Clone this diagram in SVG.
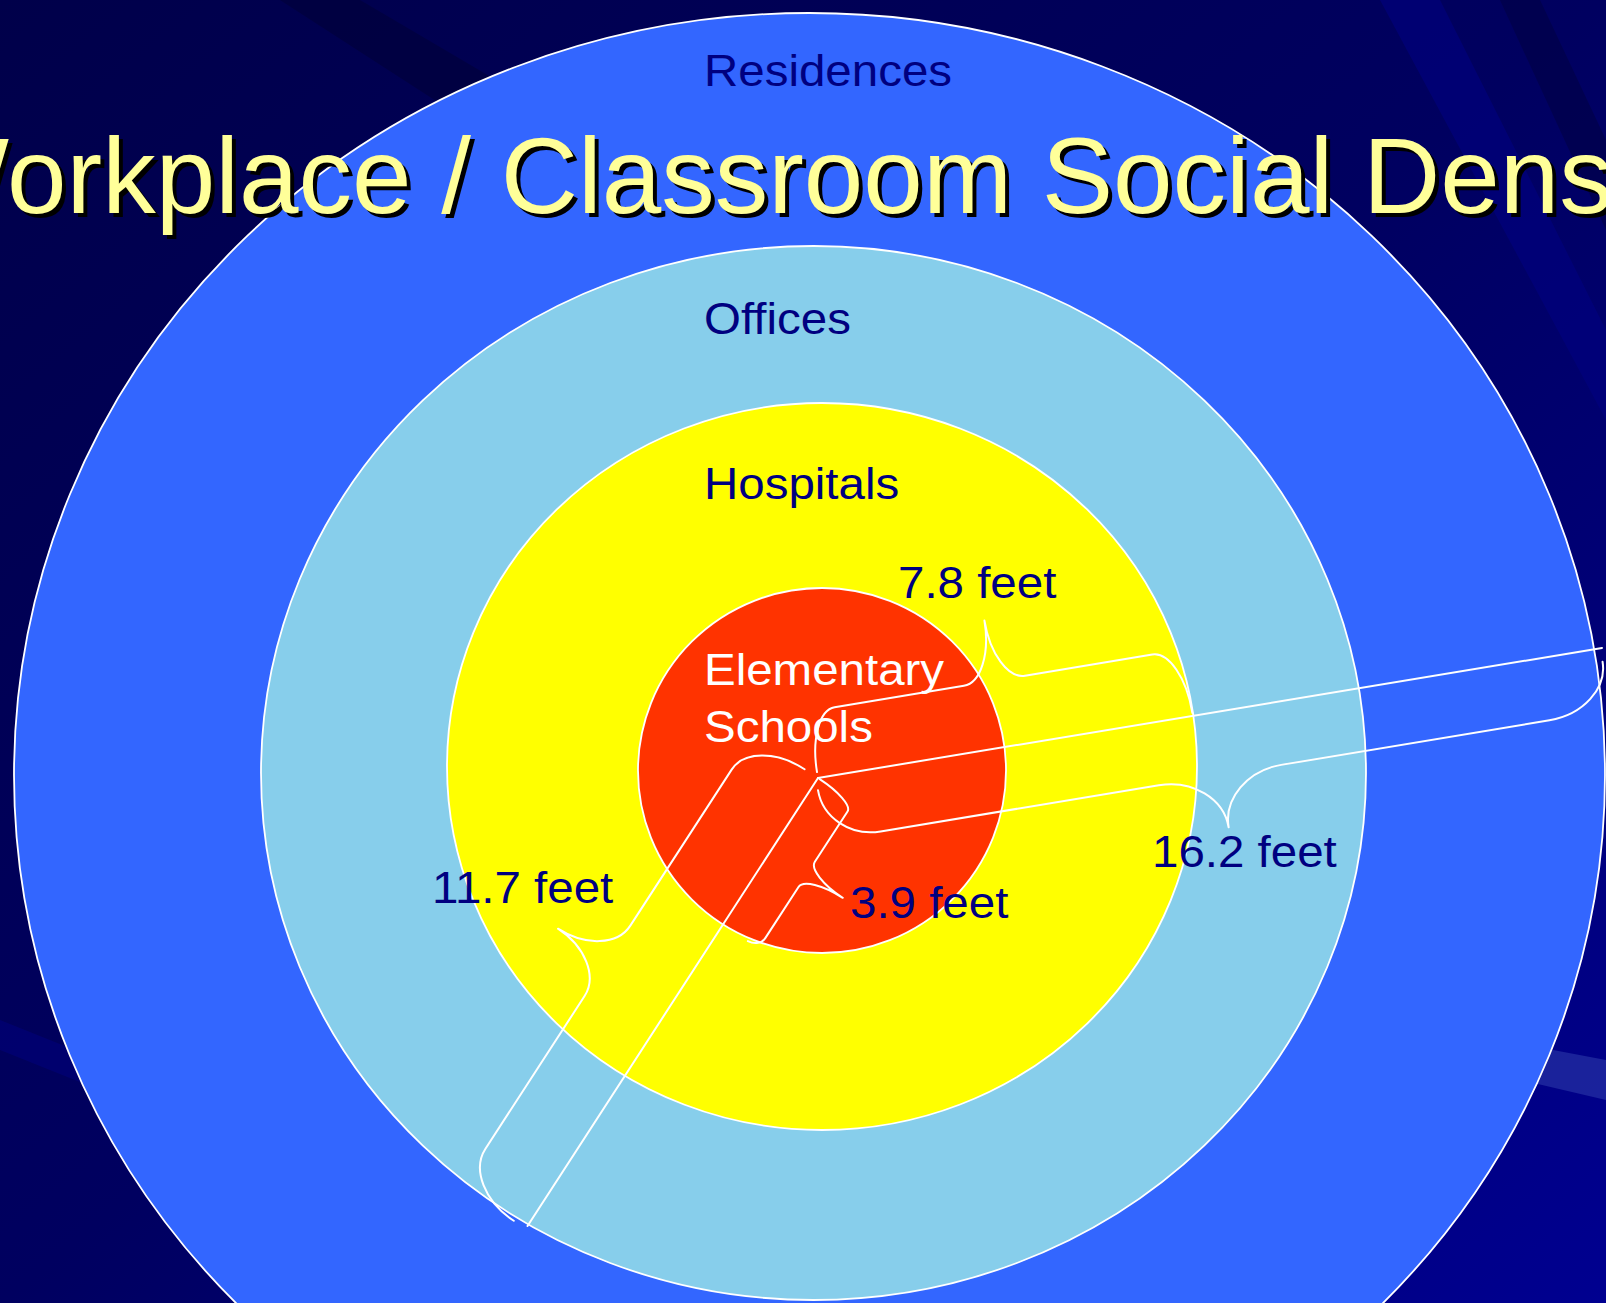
<svg xmlns="http://www.w3.org/2000/svg" width="1606" height="1303" viewBox="0 0 1606 1303">
<defs>
<linearGradient id="bg" x1="0" y1="0" x2="1" y2="1">
<stop offset="0" stop-color="#00004A"/>
<stop offset="0.5" stop-color="#000060"/>
<stop offset="1" stop-color="#000090"/>
</linearGradient>
<style>
.ring{stroke:#ffffff;stroke-width:1.8}
.conn{fill:none;stroke:#ffffff;stroke-width:2;stroke-linecap:round;stroke-linejoin:round}
.lbl{font-family:"Liberation Sans",Arial,sans-serif;font-size:45px;fill:#000080}
.wl{fill:#ffffff}
.title{font-family:"Liberation Sans",Arial,sans-serif;font-size:107px}
</style>
</defs>
<g id="background">
<rect x="0" y="0" width="1606" height="1303" fill="url(#bg)"/>
<polygon points="280,0 360,0 700,200 620,220" fill="#000038" opacity="0.6"/>
<polygon points="1380,0 1440,0 1606,330 1606,420" fill="#000080" opacity="0.6"/>
<polygon points="1500,0 1540,0 1606,140 1606,230" fill="#000045" opacity="0.6"/>
<polygon points="0,1020 0,1050 300,1170 300,1140" fill="#000090" opacity="0.35"/>
<polygon points="1500,1040 1606,1060 1606,1100 1500,1075" fill="#3344B0" opacity="0.5"/>
</g>
<g id="residences">
<ellipse cx="809.5" cy="775" rx="795.5" ry="762" fill="#3366FF" class="ring"/>
</g>
<g id="offices">
<ellipse cx="813.5" cy="773" rx="552.5" ry="527" fill="#87CEEB" class="ring"/>
</g>
<g id="hospitals">
<ellipse cx="822" cy="766.5" rx="375" ry="363.5" fill="#FFFF00" class="ring"/>
</g>
<g id="schools">
<ellipse cx="822" cy="770.5" rx="184" ry="182.5" fill="#FF3300" class="ring"/>
</g>
<g id="connectors">
<line class="conn" x1="818" y1="778" x2="1602" y2="648"/>
<line class="conn" x1="818" y1="778" x2="527.5" y2="1226"/>
<g transform="translate(818,778) rotate(-9.44)">
<path id="brace-7-8" class="conn" d="M0,-6 C0,-39.7 12.5,-67 28,-67 L159,-67 C176.1,-67 190,-94.3 190,-128 C190,-94.3 203.9,-67 221,-67 L350,-67 C366.6,-67 380,-38.3 380,-3"/>
<path id="brace-16-2" class="conn" d="M-2,12 C-2,40.2 22.6,63 53,63 L335,63 C369.2,63 397,86.7 397,116 C397,86.7 424.8,63 459,63 L731,63 C765.2,63 793,41 793,14"/>
</g>
<g transform="translate(818,778) rotate(123)">
<path id="brace-3-9" class="conn" d="M0,-2 C0,-24.6 5.4,-43 12,-43 L72,-43 C80.3,-43 87,-62.3 87,-86 C87,-62.3 93.7,-43 102,-43 L163,-43 C169,-43 174,-38 175,-30"/>
<path id="brace-11-7" class="conn" d="M0,16 C0,49.7 17.9,77 40,77 L226,77 C249.2,77 268,103.4 268,136 C268,103.4 286.8,77 310,77 L492,77 C516.8,77 537,48.8 537,14"/>
</g>
</g>
<g id="title">
<text class="title" x="-88" y="217" fill="#000000">Workplace / Classroom Social Density</text>
<text class="title" x="-92" y="213" fill="#FFFF99">Workplace / Classroom Social Density</text>
</g>
<g id="labels">
<text class="lbl" transform="translate(704,86) scale(1.055,1)">Residences</text>
<text class="lbl" transform="translate(704,334) scale(1.055,1)">Offices</text>
<text class="lbl" transform="translate(704,499) scale(1.055,1)">Hospitals</text>
<text class="lbl wl" transform="translate(704,685) scale(1.055,1)">Elementary</text>
<text class="lbl wl" transform="translate(704,742) scale(1.055,1)">Schools</text>
<text class="lbl" transform="translate(898,598) scale(1.055,1)">7.8 feet</text>
<text class="lbl" transform="translate(850,918) scale(1.055,1)">3.9 feet</text>
<text class="lbl" transform="translate(1152,867) scale(1.055,1)">16.2 feet</text>
<text class="lbl" transform="translate(432,903) scale(1.055,1)">11.7 feet</text>
</g>
</svg>
